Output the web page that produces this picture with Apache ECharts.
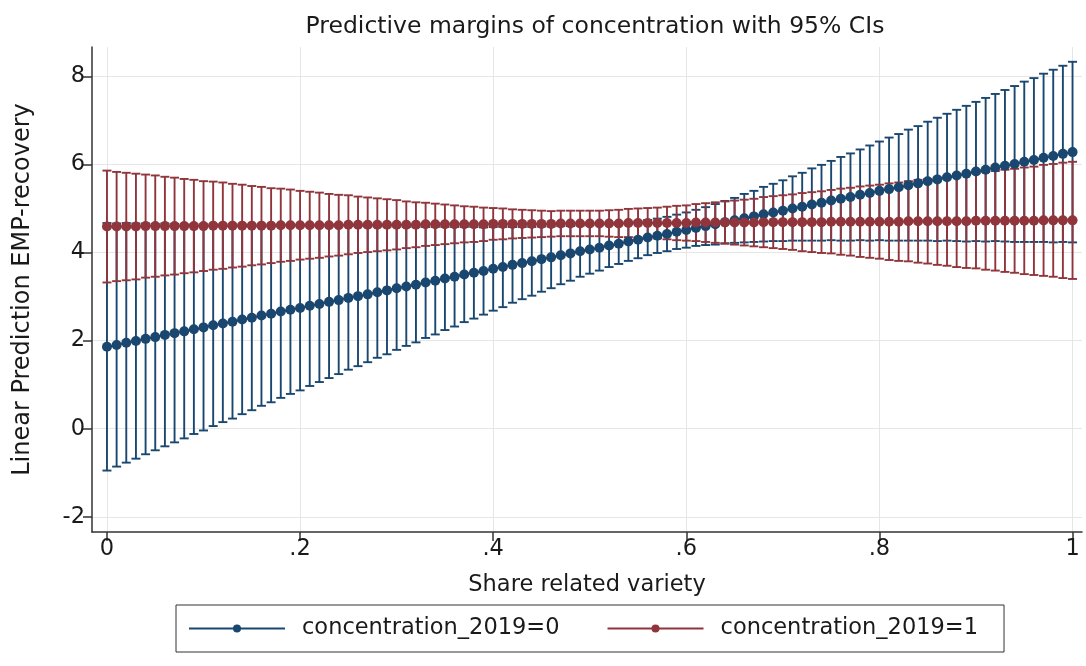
<!DOCTYPE html>
<html>
<head>
<meta charset="utf-8">
<script src="https://cdn.jsdelivr.net/npm/echarts@6/dist/echarts.min.js"></script>
<style>
html,body{margin:0;padding:0;background:#fff;}
#chart{width:1086px;height:666px;}
</style>
</head>
<body>
<div id="chart"></div>
<script>
const chartTitle = 'Predictive margins of concentration with 95% CIs';
const xAxisTitle = 'Share related variety';
const yAxisTitle = 'Linear Prediction EMP-recovery';
const seriesNames = ['concentration_2019=0', 'concentration_2019=1'];

const xTicks = [0, 0.2, 0.4, 0.6, 0.8, 1];
const xTickLabels = ['0', '.2', '.4', '.6', '.8', '1'];
const yTicks = [-2, 0, 2, 4, 6, 8];

const shareValues = [
  0.00,0.01,0.02,0.03,0.04,0.05,0.06,0.07,0.08,0.09,
  0.10,0.11,0.12,0.13,0.14,0.15,0.16,0.17,0.18,0.19,
  0.20,0.21,0.22,0.23,0.24,0.25,0.26,0.27,0.28,0.29,
  0.30,0.31,0.32,0.33,0.34,0.35,0.36,0.37,0.38,0.39,
  0.40,0.41,0.42,0.43,0.44,0.45,0.46,0.47,0.48,0.49,
  0.50,0.51,0.52,0.53,0.54,0.55,0.56,0.57,0.58,0.59,
  0.60,0.61,0.62,0.63,0.64,0.65,0.66,0.67,0.68,0.69,
  0.70,0.71,0.72,0.73,0.74,0.75,0.76,0.77,0.78,0.79,
  0.80,0.81,0.82,0.83,0.84,0.85,0.86,0.87,0.88,0.89,
  0.90,0.91,0.92,0.93,0.94,0.95,0.96,0.97,0.98,0.99,
  1.00
];

// concentration_2019=0 : predicted margin and CI half-width
const blueMargin = [
  1.86,1.90,1.95,1.99,2.04,2.08,2.13,2.17,2.21,2.26,
  2.30,2.35,2.39,2.43,2.48,2.52,2.57,2.61,2.66,2.70,
  2.74,2.79,2.83,2.88,2.92,2.97,3.01,3.05,3.10,3.14,
  3.19,3.23,3.27,3.32,3.36,3.41,3.45,3.50,3.54,3.58,
  3.63,3.67,3.72,3.76,3.80,3.85,3.89,3.94,3.98,4.03,
  4.07,4.11,4.16,4.20,4.25,4.29,4.34,4.38,4.42,4.47,
  4.51,4.56,4.60,4.64,4.69,4.73,4.78,4.82,4.87,4.91,
  4.95,5.00,5.04,5.09,5.13,5.18,5.22,5.26,5.31,5.35,
  5.40,5.44,5.48,5.53,5.57,5.62,5.66,5.71,5.75,5.79,
  5.84,5.88,5.93,5.97,6.01,6.06,6.10,6.15,6.19,6.24,
  6.28
];
const blueCiHalf = [
  2.81,2.76,2.72,2.67,2.62,2.57,2.53,2.48,2.43,2.38,
  2.34,2.29,2.24,2.20,2.15,2.10,2.05,2.01,1.96,1.91,
  1.87,1.82,1.77,1.73,1.68,1.63,1.59,1.54,1.49,1.45,
  1.40,1.35,1.31,1.26,1.22,1.17,1.13,1.08,1.04,0.99,
  0.95,0.91,0.86,0.82,0.78,0.74,0.70,0.66,0.62,0.58,
  0.55,0.52,0.49,0.46,0.44,0.42,0.40,0.39,0.39,0.39,
  0.40,0.41,0.43,0.46,0.48,0.51,0.55,0.58,0.62,0.65,
  0.69,0.73,0.77,0.82,0.86,0.90,0.95,0.99,1.03,1.08,
  1.12,1.17,1.21,1.26,1.30,1.35,1.40,1.44,1.49,1.54,
  1.58,1.63,1.67,1.72,1.77,1.82,1.86,1.91,1.96,2.00,
  2.05
];

// concentration_2019=1 : predicted margin and CI half-width
const redMargin = [
  4.59,4.59,4.59,4.59,4.60,4.60,4.60,4.60,4.60,4.60,
  4.60,4.61,4.61,4.61,4.61,4.61,4.61,4.61,4.62,4.62,
  4.62,4.62,4.62,4.62,4.62,4.63,4.63,4.63,4.63,4.63,
  4.63,4.63,4.63,4.64,4.64,4.64,4.64,4.64,4.64,4.64,
  4.65,4.65,4.65,4.65,4.65,4.65,4.65,4.66,4.66,4.66,
  4.66,4.66,4.66,4.66,4.67,4.67,4.67,4.67,4.67,4.67,
  4.67,4.68,4.68,4.68,4.68,4.68,4.68,4.68,4.69,4.69,
  4.69,4.69,4.69,4.69,4.69,4.70,4.70,4.70,4.70,4.70,
  4.70,4.70,4.70,4.71,4.71,4.71,4.71,4.71,4.71,4.71,
  4.72,4.72,4.72,4.72,4.72,4.72,4.72,4.73,4.73,4.73,
  4.73
];
const redCiHalf = [
  1.27,1.24,1.22,1.20,1.17,1.15,1.12,1.10,1.07,1.05,
  1.02,1.00,0.98,0.95,0.93,0.90,0.88,0.85,0.83,0.81,
  0.78,0.76,0.74,0.71,0.69,0.67,0.64,0.62,0.60,0.58,
  0.56,0.53,0.51,0.49,0.47,0.45,0.43,0.41,0.40,0.38,
  0.36,0.35,0.33,0.32,0.31,0.30,0.29,0.29,0.29,0.29,
  0.29,0.29,0.30,0.31,0.32,0.33,0.34,0.35,0.37,0.39,
  0.40,0.42,0.44,0.46,0.48,0.50,0.52,0.54,0.57,0.59,
  0.61,0.63,0.66,0.68,0.70,0.72,0.75,0.77,0.80,0.82,
  0.84,0.87,0.89,0.91,0.94,0.96,0.99,1.01,1.04,1.06,
  1.08,1.11,1.13,1.16,1.18,1.21,1.23,1.26,1.28,1.31,
  1.33
];

const BLUE = '#1a476f';
const RED = '#90353b';
const FONT = 'DejaVu Sans';
const TEXT = '#1a1a1a';

function pointsOf(margins) {
  return shareValues.map((x, i) => [x, margins[i]]);
}
function ciOf(margins, halves) {
  return shareValues.map((x, i) => [x, +(margins[i] - halves[i]).toFixed(2), +(margins[i] + halves[i]).toFixed(2)]);
}
function capRenderer(color) {
  return function (params, api) {
    const x = api.value(0);
    const pLo = api.coord([x, api.value(1)]);
    const pHi = api.coord([x, api.value(2)]);
    const w = 4.5;
    const style = { stroke: color, lineWidth: 1.9, fill: null };
    return {
      type: 'group',
      children: [
        { type: 'line', shape: { x1: pLo[0], y1: pLo[1], x2: pHi[0], y2: pHi[1] }, style: style },
        { type: 'line', shape: { x1: pLo[0] - w, y1: pLo[1], x2: pLo[0] + w, y2: pLo[1] }, style: style },
        { type: 'line', shape: { x1: pHi[0] - w, y1: pHi[1], x2: pHi[0] + w, y2: pHi[1] }, style: style }
      ]
    };
  };
}

const chart = echarts.init(document.getElementById('chart'), null, { renderer: 'canvas' });
chart.setOption({
  animation: false,
  backgroundColor: '#ffffff',
  title: {
    text: chartTitle,
    left: 590,
    top: 10,
    textAlign: 'center',
    textStyle: { fontFamily: FONT, fontSize: 23.5, fontWeight: 'normal', color: TEXT }
  },
  legend: {
    data: seriesNames,
    left: 176,
    top: 605,
    orient: 'horizontal',
    selectedMode: false,
    itemWidth: 96,
    itemHeight: 10,
    itemGap: 47,
    padding: [12, 26, 12, 12],
    borderColor: '#333333',
    borderWidth: 1,
    backgroundColor: '#ffffff',
    textStyle: { fontFamily: FONT, fontSize: 22.5, color: TEXT, padding: [0, 0, 0, 12] }
  },
  grid: { left: 92, right: 4, top: 47, bottom: 134, containLabel: false },
  xAxis: {
    type: 'value',
    min: -0.0155,
    max: 1.0098,
    name: xAxisTitle,
    nameLocation: 'middle',
    nameGap: 42,
    nameTextStyle: { fontFamily: FONT, fontSize: 22.5, color: TEXT },
    axisLine: { show: true, onZero: false, lineStyle: { color: '#333333', width: 1.5 } },
    axisTick: { show: true, length: 9, customValues: xTicks, lineStyle: { color: '#333333', width: 1.5 } },
    axisLabel: {
      customValues: xTicks,
      margin: 6,
      fontFamily: FONT, fontSize: 22.5, color: TEXT,
      formatter: function (v) { const i = xTicks.indexOf(v); return i >= 0 ? xTickLabels[i] : ''; }
    },
    splitLine: { show: true, lineStyle: { color: '#e6e6e6', width: 1 } }
  },
  yAxis: {
    type: 'value',
    min: -2.345,
    max: 8.666,
    name: yAxisTitle,
    nameLocation: 'middle',
    nameGap: 57,
    nameTextStyle: { fontFamily: FONT, fontSize: 24, color: TEXT },
    axisLine: { show: true, onZero: false, lineStyle: { color: '#333333', width: 1.5 } },
    axisTick: { show: true, length: 9, customValues: yTicks, lineStyle: { color: '#333333', width: 1.5 } },
    axisLabel: {
      customValues: yTicks,
      margin: 7,
      fontFamily: FONT, fontSize: 22.5, color: TEXT,
      formatter: function (v) { return String(v); }
    },
    splitLine: { show: true, lineStyle: { color: '#e6e6e6', width: 1 } }
  },
  series: [
    {
      name: 'ci0', type: 'custom', renderItem: capRenderer(BLUE),
      encode: { x: 0, y: [1, 2] }, data: ciOf(blueMargin, blueCiHalf), silent: true
    },
    {
      name: 'ci1', type: 'custom', renderItem: capRenderer(RED),
      encode: { x: 0, y: [1, 2] }, data: ciOf(redMargin, redCiHalf), silent: true
    },
    {
      name: seriesNames[0], type: 'line', data: pointsOf(blueMargin),
      symbol: 'circle', symbolSize: 10, showSymbol: true, showAllSymbol: true,
      itemStyle: { color: BLUE }, lineStyle: { color: BLUE, width: 2 }
    },
    {
      name: seriesNames[1], type: 'line', data: pointsOf(redMargin),
      symbol: 'circle', symbolSize: 10, showSymbol: true, showAllSymbol: true,
      itemStyle: { color: RED }, lineStyle: { color: RED, width: 2 }
    }
  ]
});
</script>
</body>
</html>
